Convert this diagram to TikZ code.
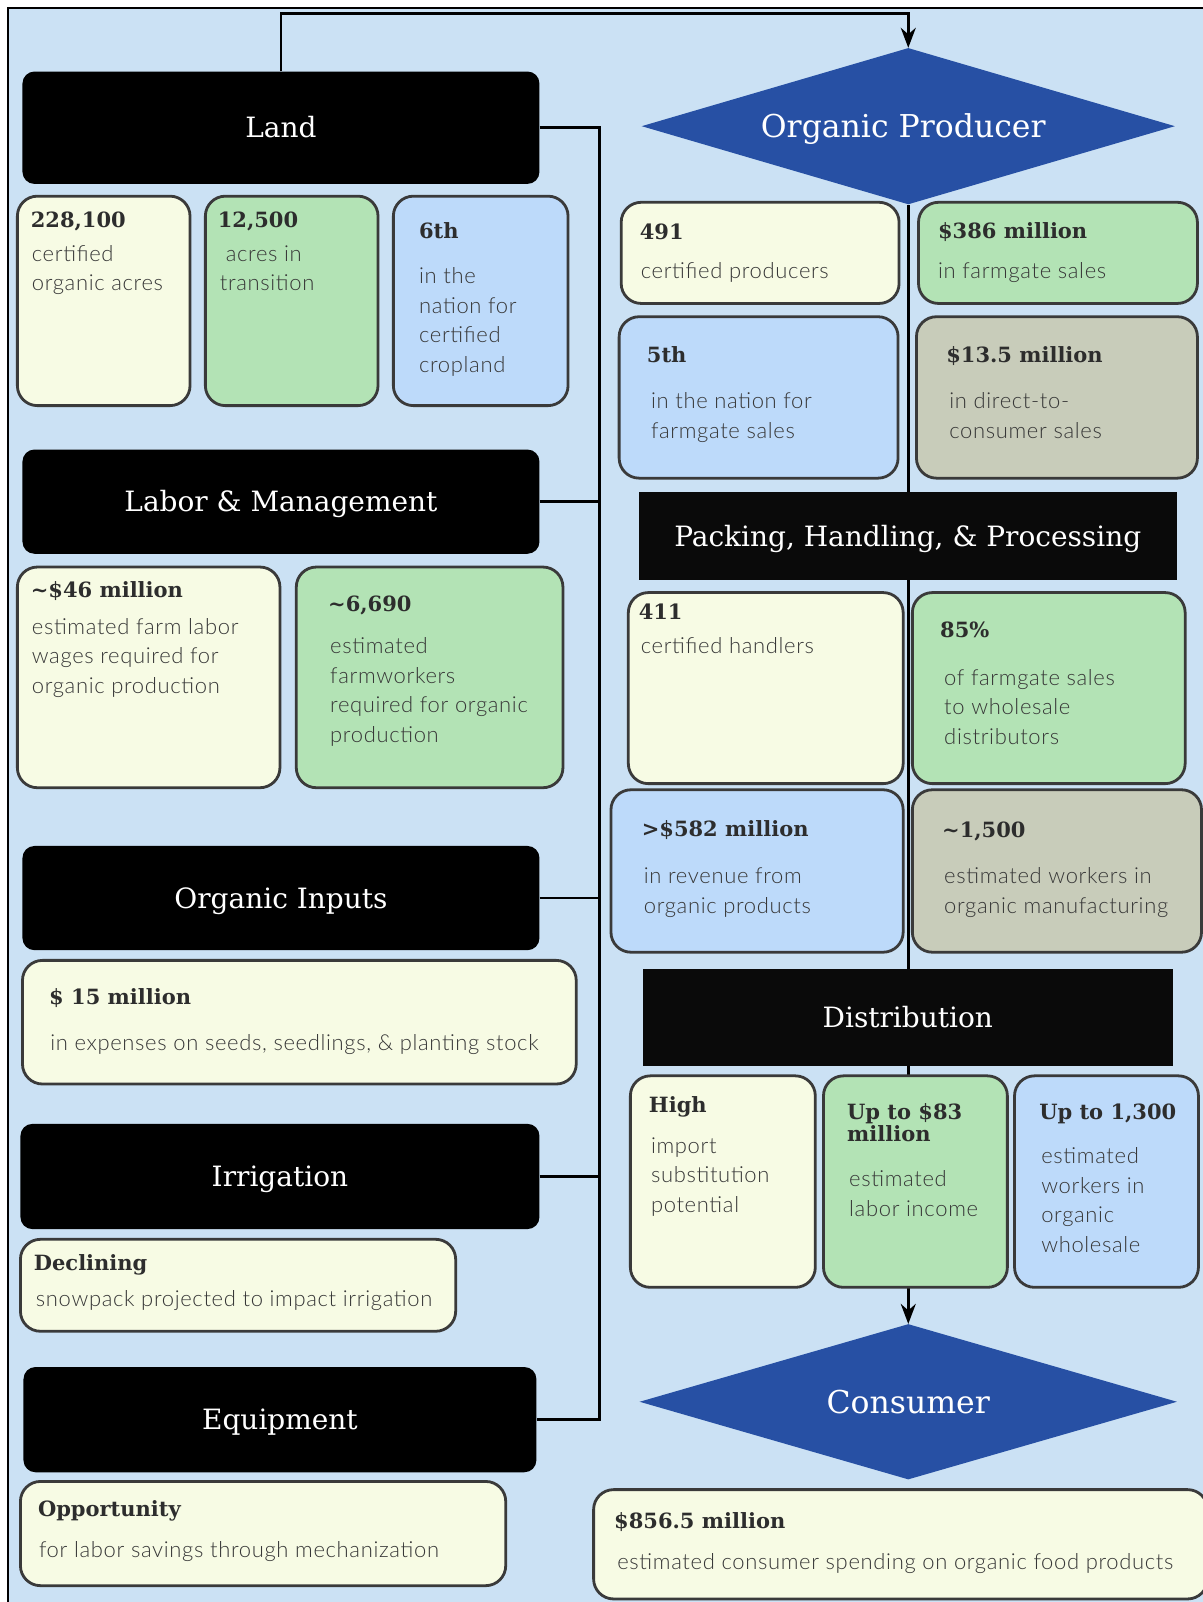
\documentclass[tikz,border=0pt]{standalone}
\usepackage{fontspec}
\usetikzlibrary{fit,shapes.geometric,arrows.meta}
\newfontfamily\serifF{DejaVu Serif}
\newfontfamily\bodyF{Lato Light}[LetterSpace=3.0]
\definecolor{bgblue}{RGB}{203,225,244}
\definecolor{cyellow}{RGB}{247,251,228}
\definecolor{cgreen}{RGB}{179,227,181}
\definecolor{cblue}{RGB}{189,218,250}
\definecolor{cgray}{RGB}{200,204,186}
\definecolor{dblue}{RGB}{39,80,164}
\definecolor{hdrdark}{RGB}{10,10,10}
\definecolor{cardline}{RGB}{58,58,58}
\definecolor{numcol}{RGB}{45,45,45}
\definecolor{bodycol}{RGB}{55,55,55}
\pgfdeclarelayer{back}\pgfdeclarelayer{wires}
\pgfsetlayers{back,wires,main}
\begin{document}
\begin{tikzpicture}[x=1.0221pt,y=-1.0221pt,
  hdr/.style={fill=black, rounded corners=12pt, inner sep=0pt},
  sqhdr/.style={hdr, fill=hdrdark, rounded corners=0pt},
  hdrtext/.style={inner sep=0pt, text=white, text height=20pt, text depth=0pt, font=\serifF\fontsize{28}{32}\selectfont},
  card/.style={draw=cardline, line width=2.8pt, rounded corners=20pt, inner sep=0pt},
  ylw/.style={card, fill=cyellow}, grn/.style={card, fill=cgreen},
  blu/.style={card, fill=cblue}, gry/.style={card, fill=cgray},
  num/.style={anchor=base west, inner sep=0pt, yshift=-7.5pt, text=numcol, font=\serifF\bfseries\fontsize{21}{24}\selectfont},
  body/.style={anchor=north west, inner sep=0pt, yshift=13pt, align=left, text=bodycol, font=\bodyF\fontsize{22}{29.6}\selectfont},
  dia/.style={diamond, fill=dblue, aspect=3.4, inner sep=0pt},
  diatext/.style={inner sep=0pt, text=white, text height=22.7pt, text depth=0pt, font=\serifF\fontsize{31.5}{36}\selectfont},
  wire/.style={draw=black, line width=2.6pt},
  arr/.style={wire, -{Stealth[length=20pt,width=15pt]}}
]
\useasboundingbox (0,0) rectangle (1177,1568);
\begin{pgfonlayer}{back}
\fill[bgblue] (7.5,7.5) rectangle (1185,1580);
\draw[line width=2pt] (7.5,1580) -- (7.5,7.5) -- (1185,7.5);
\end{pgfonlayer}

% ---------- left column headers ----------
\node[hdr, fit={(22,70) (528,180)}, label={[hdrtext]center:Land}] (land) {};
\node[hdr, fit={(22,440) (528,542)}, label={[hdrtext]center:Labor \& Management}] (labor) {};
\node[hdr, fit={(22,828) (528,930)}, label={[hdrtext]center:Organic Inputs}] (inputs) {};
\node[hdr, fit={(20,1100) (528,1203)}, label={[hdrtext]center:Irrigation}] (irrig) {};
\node[hdr, fit={(23,1338) (525,1441)}, label={[hdrtext]center:Equipment}] (equip) {};

% ---------- right column ----------
\node[dia, minimum width=533.5pt, minimum height=156.4pt, label={[diatext, xshift=-5pt]center:Organic Producer}] (prod) at (889,123.5) {};
\node[sqhdr, fit={(625,482) (1152,568)}, label={[hdrtext]center:{Packing, Handling, \& Processing}}] (pack) {};
\node[sqhdr, fit={(629,948) (1148,1043)}, label={[hdrtext]center:Distribution}] (dist) {};
\node[dia, minimum width=537.6pt, minimum height=155.4pt, label={[diatext]center:Consumer}] (cons) at (889,1372) {};

% ---------- connectors ----------
\coordinate (topY) at (0,13);
\coordinate (busX) at (587,0);
\begin{pgfonlayer}{wires}
\draw[arr] (land.north) -- (land.north |- topY) -| (prod.north);
\draw[wire] (land.east) -- (land.east -| busX) -- (equip.east -| busX) -- (equip.east);
\draw[wire] (labor.east) -- (labor.east -| busX);
\draw[wire] (inputs.east) -- (inputs.east -| busX);
\draw[wire] (irrig.east) -- (irrig.east -| busX);
\draw[arr] (prod.south) -- (cons.north);
\end{pgfonlayer}

% ---------- Land cards ----------
\node[ylw, fit={(17,192) (186,397)}] (l1) {};
\node[grn, fit={(201,192) (370,397)}] (l2) {};
\node[blu, fit={(385,192) (556,397)}] (l3) {};
\node[num] (l1n) at (30,215) {228,100};
\node[body] (l1b) at (31,248) {\strut certified\\organic acres};
\node[num] (l2n) at (213,215) {12,500};
\node[body] (l2b) at (215,248) {\strut\hspace{6pt}acres in\\transition};
\node[num] (l3n) at (410,226) {6th};
\node[body] (l3b) at (410,270) {\strut in the\\nation for\\certified\\cropland};

% ---------- Labor cards ----------
\node[ylw, fit={(17,555) (274,771)}] (m1) {};
\node[grn, fit={(290,555) (551,771)}] (m2) {};
\node[num] (m1n) at (30,577) {\textasciitilde\$46 million};
\node[body] (m1b) at (31,613) {\strut estimated farm labor\\wages required for\\organic production};
\node[num] (m2n) at (321,591) {\textasciitilde6,690};
\node[body] (m2b) at (323,632) {\strut estimated\\farmworkers\\required for organic\\production};

% ---------- Inputs / Irrigation / Equipment cards ----------
\node[ylw, fit={(22,940) (564,1061)}] (i1) {};
\node[num] (i1n) at (48,976) {\$ 15 million};
\node[body] (i1b) at (49,1020) {\strut in expenses on seeds, seedlings, \& planting stock};
\node[ylw, fit={(20,1213) (446,1303)}] (r1) {};
\node[num] (r1n) at (33,1236) {Declining};
\node[body] (r1b) at (35,1271) {\strut snowpack projected to impact irrigation};
\node[ylw, fit={(20,1450) (495,1552)}] (e1) {};
\node[num] (e1n) at (37,1477) {Opportunity};
\node[body] (e1b) at (38,1517) {\strut for labor savings through mechanization};

% ---------- Producer cards ----------
\node[ylw, fit={(608,198) (880,297)}] (p1) {};
\node[grn, fit={(899,198) (1172,297)}] (p2) {};
\node[blu, fit={(606,310) (879,468)}] (p3) {};
\node[gry, fit={(897,310) (1172,468)}] (p4) {};
\node[num] (p1n) at (626,227) {491};
\node[body] (p1b) at (627,265) {\strut certified producers};
\node[num] (p2n) at (918,226) {\$386 million};
\node[body] (p2b) at (918,265) {\strut in farmgate sales};
\node[num] (p3n) at (633,347) {5th};
\node[body] (p3b) at (637,392) {\strut in the nation for\\farmgate sales};
\node[num] (p4n) at (926,347) {\$13.5 million};
\node[body] (p4b) at (929,392) {\strut in direct-to-\\consumer sales};

% ---------- Packing cards ----------
\node[ylw, fit={(615,580) (884,767)}] (h1) {};
\node[grn, fit={(893,580) (1160,767)}] (h2) {};
\node[blu, fit={(598,773) (884,932)}] (h3) {};
\node[gry, fit={(893,773) (1176,932)}] (h4) {};
\node[num] (h1n) at (625,599) {411};
\node[body] (h1b) at (627,632) {\strut certified handlers};
\node[num] (h2n) at (920,617) {85\%};
\node[body] (h2b) at (924,663) {\strut of farmgate sales\\to wholesale\\distributors};
\node[num] (h3n) at (628,811) {>\$582 million};
\node[body] (h3b) at (630,857) {\strut in revenue from\\organic products};
\node[num] (h4n) at (922,812) {\textasciitilde1,500};
\node[body] (h4b) at (924,857) {\strut estimated workers in\\organic manufacturing};

% ---------- Distribution cards ----------
\node[ylw, fit={(617,1053) (798,1260)}] (d1) {};
\node[grn, fit={(806,1053) (986,1260)}] (d2) {};
\node[blu, fit={(993,1053) (1173,1260)}] (d3) {};
\node[num] (d1n) at (635,1082) {High};
\node[body] (d1b) at (637,1121) {\strut import\\substitution\\potential};
\node[num] (d2n) at (829,1088) {Up to \$83};
\node[num] (d2m) at (829,1110) {million};
\node[body] (d2b) at (831,1154) {\strut estimated\\labor income};
\node[num] (d3n) at (1017,1088) {Up to 1,300};
\node[body] (d3b) at (1019,1131) {\strut estimated\\workers in\\organic\\wholesale};

% ---------- Consumer card ----------
\node[ylw, fit={(581,1458) (1182,1565)}] (c1) {};
\node[num] (c1n) at (601,1489) {\$856.5 million};
\node[body] (c1b) at (604,1528) {\strut estimated consumer spending on organic food products};
\end{tikzpicture}
\end{document}
